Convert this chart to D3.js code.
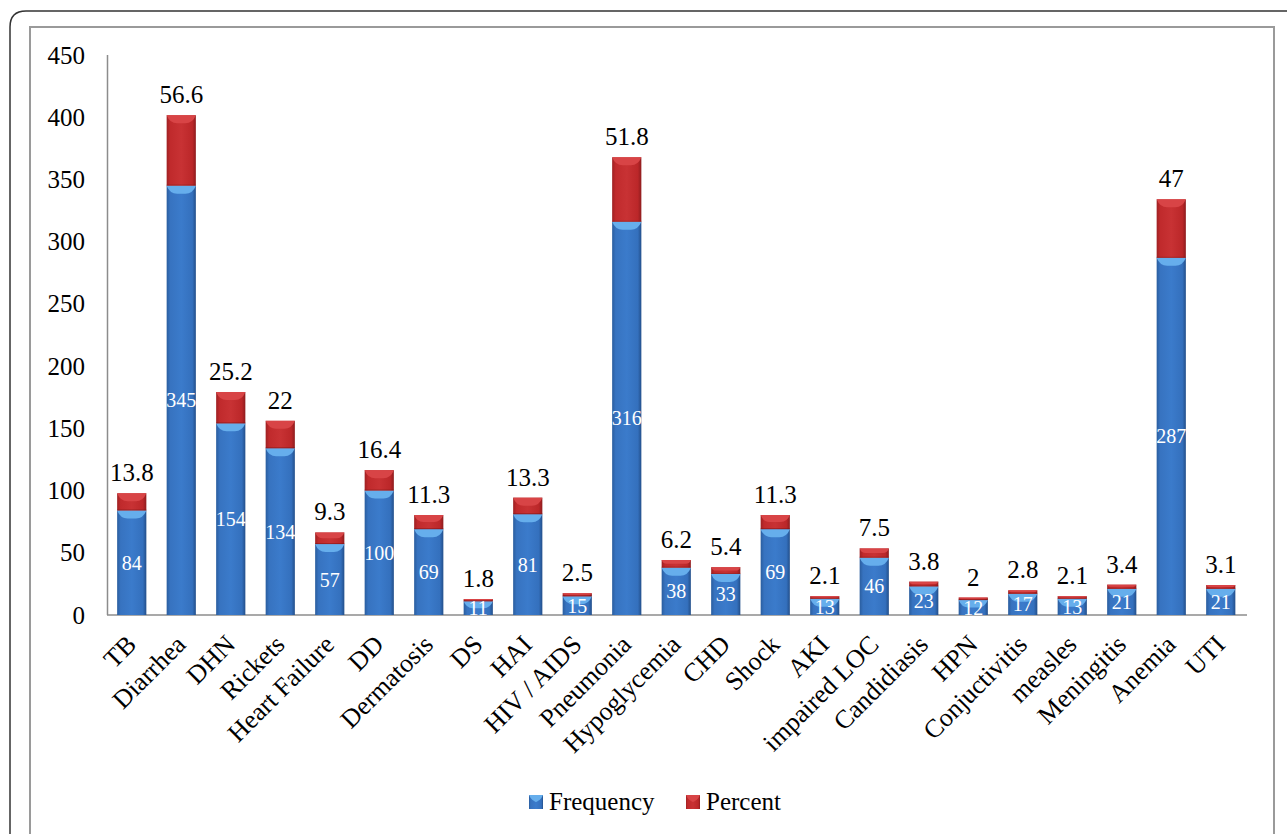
<!DOCTYPE html>
<html><head><meta charset="utf-8">
<script src="https://cdn.jsdelivr.net/npm/d3@7"></script>
<style>html,body{margin:0;padding:0;background:#fff;}svg{display:block;} text{font-family:"Liberation Serif","DejaVu Serif",serif;}</style>
</head><body>
<svg id="chart" width="1287" height="834"></svg>
<script>
const categories = ["TB","Diarrhea","DHN","Rickets","Heart Failure","DD","Dermatosis","DS","HAI","HIV / AIDS","Pneumonia","Hypoglycemia","CHD","Shock","AKI","impaired LOC","Candidiasis","HPN","Conjuctivitis","measles","Meningitis","Anemia","UTI"];
const frequency = [84,345,154,134,57,100,69,11,81,15,316,38,33,69,13,46,23,12,17,13,21,287,21];
const percent = [13.8,56.6,25.2,22,9.3,16.4,11.3,1.8,13.3,2.5,51.8,6.2,5.4,11.3,2.1,7.5,3.8,2,2.8,2.1,3.4,47,3.1];
const yTicks = [0,50,100,150,200,250,300,350,400,450];
const seriesNames = ["Frequency","Percent"];

const svg = d3.select("#chart");

const defs = svg.append("defs");
function hGrad(id, stops){
  const g = defs.append("linearGradient").attr("id", id).attr("x1","0").attr("x2","1").attr("y1","0").attr("y2","0");
  stops.forEach(s => g.append("stop").attr("offset", s[0]).attr("stop-color", s[1]));
}
hGrad("gBlue", [[0,"#2a5d9e"],[0.12,"#3773c0"],[0.5,"#3b7bcb"],[0.88,"#3470bd"],[1,"#234f8a"]]);
hGrad("gRed", [[0,"#9e2022"],[0.12,"#c02a2c"],[0.5,"#c83234"],[0.88,"#bb2729"],[1,"#8e1c1e"]]);

svg.append("path")
  .attr("d","M10,1300 L10,27 Q10,11 26,11 L1300,11")
  .attr("fill","none").attr("stroke","#333").attr("stroke-width",1.5);
svg.append("rect").attr("x",30).attr("y",27).attr("width",1244).attr("height",900)
  .attr("fill","none").attr("stroke","#9a9a9a").attr("stroke-width",2);

const x = d3.scaleBand().domain(categories).range([107,1245.5]).paddingInner(0.41).paddingOuter(0.205);
const y = d3.scaleLinear().domain([0,450]).range([615,55]);

svg.append("g").selectAll("text").data(yTicks).join("text")
  .attr("x",85).attr("y",d=>y(d)).attr("text-anchor","end").attr("dominant-baseline","central")
  .attr("font-size",25).attr("fill","#000").text(d=>d);

svg.append("line").attr("x1",107.5).attr("x2",107.5).attr("y1",y(450)).attr("y2",y(0))
  .attr("stroke","#8c8c8c").attr("stroke-width",1.5);
svg.append("line").attr("x1",107).attr("x2",1247).attr("y1",y(0)).attr("y2",y(0))
  .attr("stroke","#8c8c8c").attr("stroke-width",1.5);

const data = categories.map((c,i)=>({c, f:frequency[i], p:percent[i]}));
const bw = x.bandwidth();

function bevel(g, x0, yTop, w, h, color){
  const b = Math.min(8, h/2, w/2);
  if (b <= 0.5) return;
  g.append("path")
    .attr("d", `M${x0},${yTop} L${x0+w},${yTop} Q${x0+w-b*0.4},${yTop+b} ${x0+w-b*1.3},${yTop+b} L${x0+b*1.3},${yTop+b} Q${x0+b*0.4},${yTop+b} ${x0},${yTop} Z`)
    .attr("fill", color);
}

const bars = svg.append("g");
data.forEach(d=>{
  const x0 = x(d.c);
  const yb = y(d.f), hb = y(0)-y(d.f);
  bars.append("rect").attr("x",x0).attr("y",yb).attr("width",bw).attr("height",hb).attr("fill","url(#gBlue)");
  bevel(bars, x0, yb, bw, hb, "#66aeec");
  const yr = y(d.f + d.p), hr = y(d.f) - y(d.f + d.p);
  bars.append("rect").attr("x",x0).attr("y",yr).attr("width",bw).attr("height",hr).attr("fill","url(#gRed)");
  bevel(bars, x0, yr, bw, hr, "#d84446");
  bars.append("line").attr("x1",x0).attr("x2",x0+bw).attr("y1",yb-0.5).attr("y2",yb-0.5).attr("stroke","#7a1416").attr("stroke-opacity",0.5);
});

svg.append("g").selectAll("text").data(data).join("text")
  .attr("x",d=>x(d.c)+bw/2).attr("y",d=>(y(0)+y(d.f))/2)
  .attr("text-anchor","middle").attr("dominant-baseline","central")
  .attr("font-size",20).attr("fill","#fff").text(d=>d.f);

svg.append("g").selectAll("text").data(data).join("text")
  .attr("x",d=>x(d.c)+bw/2).attr("y",d=>y(d.f+d.p)-12)
  .attr("text-anchor","middle")
  .attr("font-size",25).attr("fill","#000").text(d=>d.p);

svg.append("g").selectAll("text").data(categories).join("text")
  .attr("transform",d=>`translate(${x(d)+bw/2+6},${646}) rotate(-45)`)
  .attr("text-anchor","end")
  .attr("font-size",26).attr("fill","#000").text(d=>d);

const legend = svg.append("g");
const items = [{name:seriesNames[0], fill:"url(#gBlue)", bev:"#66aeec", x:529},{name:seriesNames[1], fill:"url(#gRed)", bev:"#d84446", x:686}];
items.forEach(it=>{
  legend.append("rect").attr("x",it.x).attr("y",795).attr("width",14).attr("height",14).attr("fill",it.fill);
  bevel(legend, it.x, 795, 14, 14, it.bev);
  legend.append("text").attr("x",it.x+20).attr("y",810).attr("font-size",25).attr("fill","#000").text(it.name);
});
</script>
</body></html>
